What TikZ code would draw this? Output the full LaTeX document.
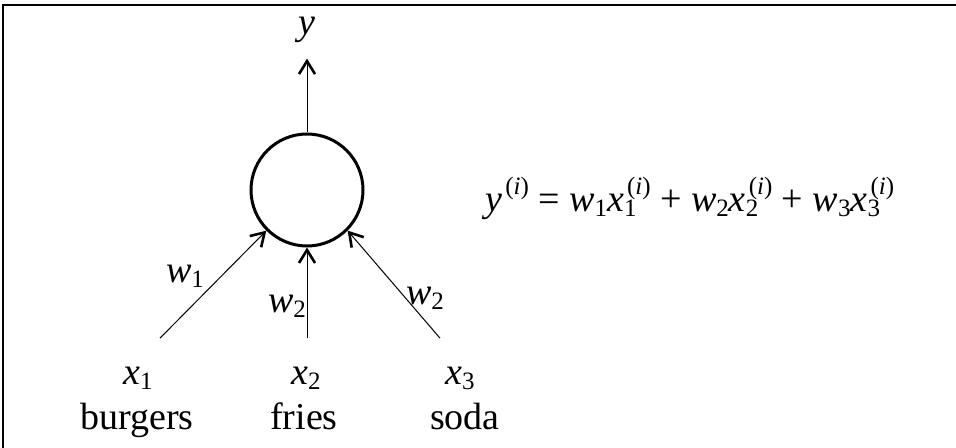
\documentclass[tikz,border=0pt]{standalone}
\usepackage{fontspec}
\setmainfont{Liberation Serif}
\usetikzlibrary{arrows.meta, positioning, calc}

% italic letter, lowered index, raised index
\newcommand{\vr}[1]{\textit{#1}}
\newcommand{\sbs}[1]{\raisebox{-2.5pt}{\fontsize{12.5}{14}\selectfont #1}}
\newcommand{\sps}[1]{\kern1.5pt\raisebox{8.5pt}{\fontsize{12.5}{14}\selectfont (\textit{#1})}}
\newcommand{\subsup}[2]{\rlap{\sbs{#1}}\sps{#2}}

\begin{document}
\begin{tikzpicture}[
  x=0.5pt, y=-0.5pt,
  neuron/.style={draw, circle, line width=1.5pt, minimum size=56pt, inner sep=0pt},
  lbl/.style={inner sep=0pt, font=\fontsize{19}{23}\selectfont},
  arr/.style={line width=0.5pt, -{Straight Barb[length=6.5pt, width=8pt, line width=1.3pt]}}
]
  \useasboundingbox (0,0) rectangle (956,448);
  % frame
  \draw[line width=0.75pt] (3,448) -- (3,5) -- (956,5);

  \node[neuron] (n) at (307,190) {};
  \node[lbl, anchor=base] (y) at (307,35) {\vr{y}};

  % inputs
  \node[lbl, anchor=base] (x1) at (138,384) {\vr{x}\sbs{1}};
  \node[lbl, anchor=base] (x2) at (306,384) {\vr{x}\sbs{2}};
  \node[lbl, anchor=base] (x3) at (460,384) {\vr{x}\sbs{3}};
  \node[lbl, anchor=base] (burgers) at (137,429) {burgers};
  \node[lbl, anchor=base] (fries) at (304,429) {fries};
  \node[lbl, anchor=base] (soda) at (465,429) {soda};

  % weights
  \node[lbl, anchor=base] (w1) at (185,282) {\vr{w}\sbs{1}};
  \node[lbl, anchor=base] (w2) at (287,312) {\vr{w}\sbs{2}};
  \node[lbl, anchor=base] (w3) at (425,304) {\vr{w}\sbs{2}};

  \draw[arr] ([xshift=11pt, yshift=14pt]x1.north) -- (n.225);
  \draw[arr] ([xshift=0.5pt, yshift=14pt]x2.north) -- (n.south);
  \draw[arr] ([xshift=-10pt, yshift=14pt]x3.north) -- (n.315);
  \draw[arr, shorten >=7.5pt] (n) -- (y);

  \node[lbl, anchor=base west] (eq) at (485,212)
    {\vr{y}\sps{i} = \vr{w}\sbs{1}\vr{x}\subsup{1}{i} + \vr{w}\sbs{2}\vr{x}\subsup{2}{i} + \vr{w}\sbs{3}\vr{x}\subsup{3}{i}};
\end{tikzpicture}
\end{document}
